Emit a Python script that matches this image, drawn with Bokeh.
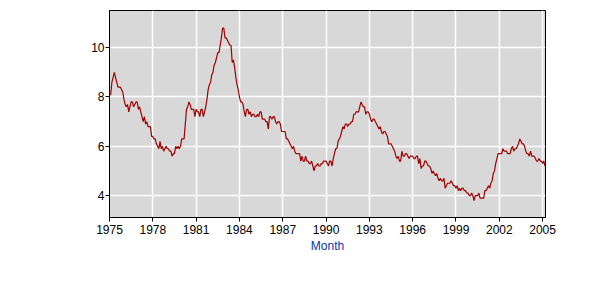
from bokeh.plotting import figure
from bokeh.models import Range1d, FixedTicker
from bokeh.embed import file_html
from bokeh.resources import INLINE

start_year = 1975
rate_1975 = [8.1, 8.1, 8.6, 8.8, 9.0, 8.8, 8.6, 8.4, 8.4, 8.4, 8.3, 8.2]
rate_1976 = [7.9, 7.7, 7.6, 7.7, 7.4, 7.6, 7.8, 7.8, 7.6, 7.7, 7.8, 7.8]
rate_1977 = [7.5, 7.6, 7.4, 7.2, 7.0, 7.2, 6.9, 7.0, 6.8, 6.8, 6.8, 6.4]
rate_1978 = [6.4, 6.3, 6.3, 6.1, 6.0, 5.9, 6.2, 5.9, 6.0, 5.8, 5.9, 6.0]
rate_1979 = [5.9, 5.9, 5.8, 5.8, 5.6, 5.7, 5.7, 6.0, 5.9, 6.0, 5.9, 6.0]
rate_1980 = [6.3, 6.3, 6.3, 6.9, 7.5, 7.6, 7.8, 7.7, 7.5, 7.5, 7.5, 7.2]
rate_1981 = [7.5, 7.4, 7.4, 7.2, 7.5, 7.5, 7.2, 7.4, 7.6, 7.9, 8.3, 8.5]
rate_1982 = [8.6, 8.9, 9.0, 9.3, 9.4, 9.6, 9.8, 9.8, 10.1, 10.4, 10.8, 10.8]
rate_1983 = [10.4, 10.4, 10.3, 10.2, 10.1, 10.1, 9.4, 9.5, 9.2, 8.8, 8.5, 8.3]
rate_1984 = [8.0, 7.8, 7.8, 7.7, 7.4, 7.2, 7.5, 7.5, 7.3, 7.4, 7.2, 7.3]
rate_1985 = [7.3, 7.2, 7.2, 7.3, 7.2, 7.4, 7.4, 7.1, 7.1, 7.1, 7.0, 7.0]
rate_1986 = [6.7, 7.2, 7.2, 7.1, 7.2, 7.2, 7.0, 6.9, 7.0, 7.0, 6.9, 6.6]
rate_1987 = [6.6, 6.6, 6.6, 6.3, 6.3, 6.2, 6.1, 6.0, 5.9, 6.0, 5.8, 5.7]
rate_1988 = [5.7, 5.7, 5.7, 5.4, 5.6, 5.4, 5.4, 5.6, 5.4, 5.4, 5.3, 5.3]
rate_1989 = [5.4, 5.2, 5.0, 5.2, 5.2, 5.3, 5.2, 5.2, 5.3, 5.3, 5.4, 5.4]
rate_1990 = [5.4, 5.3, 5.2, 5.4, 5.4, 5.2, 5.5, 5.7, 5.9, 5.9, 6.2, 6.3]
rate_1991 = [6.4, 6.6, 6.8, 6.7, 6.9, 6.9, 6.8, 6.9, 6.9, 7.0, 7.0, 7.3]
rate_1992 = [7.3, 7.4, 7.4, 7.4, 7.6, 7.8, 7.7, 7.6, 7.6, 7.3, 7.4, 7.4]
rate_1993 = [7.3, 7.1, 7.0, 7.1, 7.1, 7.0, 6.9, 6.8, 6.7, 6.8, 6.6, 6.5]
rate_1994 = [6.6, 6.6, 6.5, 6.4, 6.1, 6.1, 6.1, 6.0, 5.9, 5.8, 5.6, 5.5]
rate_1995 = [5.6, 5.4, 5.4, 5.8, 5.6, 5.6, 5.7, 5.7, 5.6, 5.5, 5.6, 5.6]
rate_1996 = [5.6, 5.5, 5.5, 5.6, 5.6, 5.3, 5.5, 5.1, 5.2, 5.2, 5.4, 5.4]
rate_1997 = [5.3, 5.2, 5.2, 5.1, 4.9, 5.0, 4.9, 4.8, 4.9, 4.7, 4.6, 4.7]
rate_1998 = [4.6, 4.6, 4.7, 4.3, 4.4, 4.5, 4.5, 4.5, 4.6, 4.5, 4.4, 4.4]
rate_1999 = [4.3, 4.4, 4.2, 4.3, 4.2, 4.3, 4.3, 4.2, 4.2, 4.1, 4.1, 4.0]
rate_2000 = [4.0, 4.1, 4.0, 3.8, 4.0, 4.0, 4.0, 4.1, 3.9, 3.9, 3.9, 3.9]
rate_2001 = [4.2, 4.2, 4.3, 4.4, 4.3, 4.5, 4.6, 4.9, 5.0, 5.3, 5.5, 5.7]
rate_2002 = [5.7, 5.7, 5.7, 5.9, 5.8, 5.8, 5.8, 5.7, 5.7, 5.7, 5.9, 6.0]
rate_2003 = [5.8, 5.9, 5.9, 6.0, 6.1, 6.3, 6.2, 6.1, 6.1, 6.0, 5.8, 5.7]
rate_2004 = [5.7, 5.6, 5.8, 5.6, 5.6, 5.6, 5.5, 5.4, 5.4, 5.5, 5.4, 5.4]
rate_2005 = [5.3, 5.4, 5.2]

x_ticks = [1975, 1978, 1981, 1984, 1987, 1990, 1993, 1996, 1999, 2002, 2005]
y_ticks = [4, 6, 8, 10]
x_label = "Month"

rates = (rate_1975 + rate_1976 + rate_1977 + rate_1978 + rate_1979 + rate_1980 +
         rate_1981 + rate_1982 + rate_1983 + rate_1984 + rate_1985 + rate_1986 +
         rate_1987 + rate_1988 + rate_1989 + rate_1990 + rate_1991 + rate_1992 +
         rate_1993 + rate_1994 + rate_1995 + rate_1996 + rate_1997 + rate_1998 +
         rate_1999 + rate_2000 + rate_2001 + rate_2002 + rate_2003 + rate_2004 +
         rate_2005)
months = [start_year + i / 12.0 for i in range(len(rates))]

p = figure(width=600, height=300, output_backend="svg", toolbar_location=None,
           x_range=Range1d(1975.0, 2005.2), y_range=Range1d(3.11, 11.51),
           min_border_left=109, min_border_right=55, min_border_top=10,
           min_border_bottom=83)
p.background_fill_color = "#d8d8d8"
p.border_fill_color = "white"
p.outline_line_color = "black"
p.outline_line_width = 1

p.line(months, rates, line_color="#a00000", line_width=1.2)

for ax in (p.xaxis[0], p.yaxis[0]):
    ax.major_label_text_font = "Liberation Sans"
    ax.major_label_text_font_size = "12px"
    ax.major_label_text_color = "black"
    ax.axis_line_color = "black"
    ax.major_tick_line_color = "black"
    ax.major_tick_out = 4
    ax.major_tick_in = 0
    ax.minor_tick_line_color = None

p.xaxis.ticker = FixedTicker(ticks=x_ticks)
p.yaxis.ticker = FixedTicker(ticks=y_ticks)
p.xaxis.major_label_standoff = 3
p.yaxis.major_label_standoff = 1
p.xaxis.axis_label = x_label
p.xaxis.axis_label_text_font = "Liberation Sans"
p.xaxis.axis_label_text_font_size = "12px"
p.xaxis.axis_label_text_font_style = "normal"
p.xaxis.axis_label_text_color = "#0038a8"
p.xaxis.axis_label_standoff = 2

p.xgrid.ticker = FixedTicker(ticks=x_ticks)
p.ygrid.ticker = FixedTicker(ticks=y_ticks)
p.grid.grid_line_color = "white"
p.grid.grid_line_width = 1.5

open("out.html", "w").write(file_html(p, INLINE))
